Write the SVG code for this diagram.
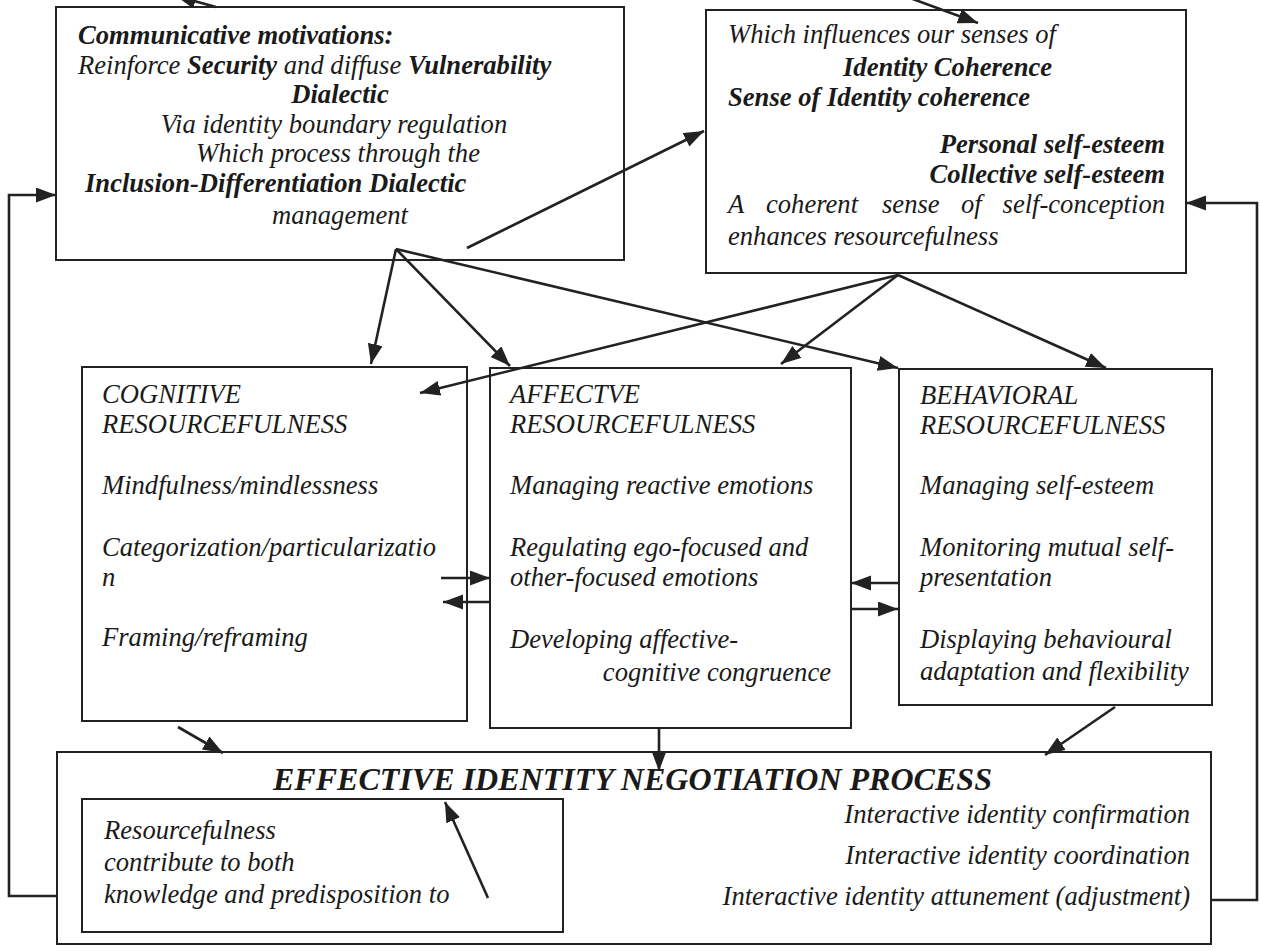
<svg xmlns="http://www.w3.org/2000/svg" width="1261" height="951" viewBox="0 0 1261 951">
<defs>
<style>
.box{fill:#fff;stroke:#222;stroke-width:2}
.t{font-family:"Liberation Serif","Times New Roman",serif;font-style:italic;font-size:26.6px;fill:#1a1a1a}
.b{font-weight:bold}
.c{stroke:#222;stroke-width:2.6;fill:none}
.end{text-anchor:end}
.mid{text-anchor:middle}
</style>
<marker id="ah" markerUnits="userSpaceOnUse" markerWidth="22" markerHeight="16" refX="20" refY="7.5" orient="auto">
<path d="M0,0 L20,7.5 L0,15 z" fill="#222"/>
</marker>
</defs>
<rect width="1261" height="951" fill="#fff"/>

<g id="motivations">
<rect class="box" x="56" y="7" width="568" height="253"/>
<text class="t b" x="78" y="44">Communicative motivations:</text>
<text class="t" x="78" y="73.5">Reinforce <tspan class="b">Security</tspan> and diffuse <tspan class="b">Vulnerability</tspan></text>
<text class="t b mid" x="340" y="103">Dialectic</text>
<text class="t mid" x="334" y="132.5">Via identity boundary regulation</text>
<text class="t mid" x="338" y="162">Which process through the</text>
<text class="t b" x="85" y="191.5">Inclusion-Differentiation Dialectic</text>
<text class="t" x="272" y="224">management</text>
</g>

<g id="coherence">
<rect class="box" x="706" y="10" width="480" height="263"/>
<text class="t" x="728" y="43">Which influences our senses of</text>
<text class="t b" x="843" y="76">Identity Coherence</text>
<text class="t b" x="728" y="106">Sense of Identity coherence</text>
<text class="t b end" x="1165" y="153">Personal self-esteem</text>
<text class="t b end" x="1165" y="183">Collective self-esteem</text>
<text class="t" x="728" y="213">A</text>
<text class="t" x="766" y="213">coherent</text>
<text class="t" x="882" y="213">sense</text>
<text class="t" x="961" y="213">of</text>
<text class="t end" x="1165" y="213">self-conception</text>
<text class="t" x="728" y="245">enhances resourcefulness</text>
</g>

<g id="cognitive">
<rect class="box" x="82" y="367" width="385" height="354"/>
<text class="t" x="102" y="403">COGNITIVE</text>
<text class="t" x="102" y="433">RESOURCEFULNESS</text>
<text class="t" x="102" y="494">Mindfulness/mindlessness</text>
<text class="t" x="102" y="556">Categorization/particularizatio</text>
<text class="t" x="102" y="586">n</text>
<text class="t" x="102" y="646">Framing/reframing</text>
</g>

<g id="affective">
<rect class="box" x="490" y="368" width="361" height="360"/>
<text class="t" x="510" y="403">AFFECTVE</text>
<text class="t" x="510" y="433">RESOURCEFULNESS</text>
<text class="t" x="510" y="494">Managing reactive emotions</text>
<text class="t" x="510" y="556">Regulating ego-focused and</text>
<text class="t" x="510" y="586">other-focused emotions</text>
<text class="t" x="510" y="648">Developing affective-</text>
<text class="t end" x="831" y="681">cognitive congruence</text>
</g>

<g id="behavioral">
<rect class="box" x="899" y="369" width="313" height="336"/>
<text class="t" x="920" y="404">BEHAVIORAL</text>
<text class="t" x="920" y="434">RESOURCEFULNESS</text>
<text class="t" x="920" y="494">Managing self-esteem</text>
<text class="t" x="920" y="556">Monitoring mutual self-</text>
<text class="t" x="920" y="586">presentation</text>
<text class="t" x="920" y="648">Displaying behavioural</text>
<text class="t" x="920" y="680">adaptation and flexibility</text>
</g>

<g id="negotiation">
<rect class="box" x="57" y="752" width="1154" height="192"/>
<text class="t b" x="273" y="790" style="font-size:32px" textLength="719" lengthAdjust="spacingAndGlyphs">EFFECTIVE IDENTITY NEGOTIATION PROCESS</text>
<text class="t end" x="1190" y="823">Interactive identity confirmation</text>
<text class="t end" x="1190" y="864">Interactive identity coordination</text>
<text class="t end" x="1190" y="905">Interactive identity attunement (adjustment)</text>
</g>

<g id="resourcefulness-note">
<rect class="box" x="82" y="799" width="481" height="133"/>
<text class="t" x="104" y="839">Resourcefulness</text>
<text class="t" x="104" y="871">contribute to both</text>
<text class="t" x="104" y="903">knowledge and predisposition to</text>
</g>

<g id="connectors">
<line class="c" x1="216" y1="7" x2="176" y2="-4" marker-end="url(#ah)"/>
<line class="c" x1="910" y1="-2" x2="978" y2="23" marker-end="url(#ah)"/>
<line class="c" x1="467" y1="248" x2="704" y2="131" marker-end="url(#ah)"/>
<line class="c" x1="396" y1="249" x2="371" y2="364" marker-end="url(#ah)"/>
<line class="c" x1="396" y1="249" x2="510" y2="366" marker-end="url(#ah)"/>
<line class="c" x1="396" y1="249" x2="898" y2="368" marker-end="url(#ah)"/>
<line class="c" x1="898" y1="275" x2="420" y2="393" marker-end="url(#ah)"/>
<line class="c" x1="898" y1="275" x2="781" y2="364" marker-end="url(#ah)"/>
<line class="c" x1="898" y1="275" x2="1106" y2="368" marker-end="url(#ah)"/>
<polyline class="c" points="57,896 9,896 9,195 56,195" marker-end="url(#ah)"/>
<polyline class="c" points="1211,900 1257,900 1257,203 1186,203" marker-end="url(#ah)"/>
<line class="c" x1="441" y1="578" x2="490" y2="578" marker-end="url(#ah)"/>
<line class="c" x1="490" y1="602" x2="443" y2="602" marker-end="url(#ah)"/>
<line class="c" x1="898" y1="583" x2="851" y2="583" marker-end="url(#ah)"/>
<line class="c" x1="851" y1="609" x2="898" y2="609" marker-end="url(#ah)"/>
<line class="c" x1="178" y1="727" x2="223" y2="753" marker-end="url(#ah)"/>
<line class="c" x1="659" y1="728" x2="659" y2="771" marker-end="url(#ah)"/>
<line class="c" x1="1115" y1="707" x2="1045" y2="755" marker-end="url(#ah)"/>
<line class="c" x1="488" y1="898" x2="445" y2="802" marker-end="url(#ah)"/>
</g>
</svg>
